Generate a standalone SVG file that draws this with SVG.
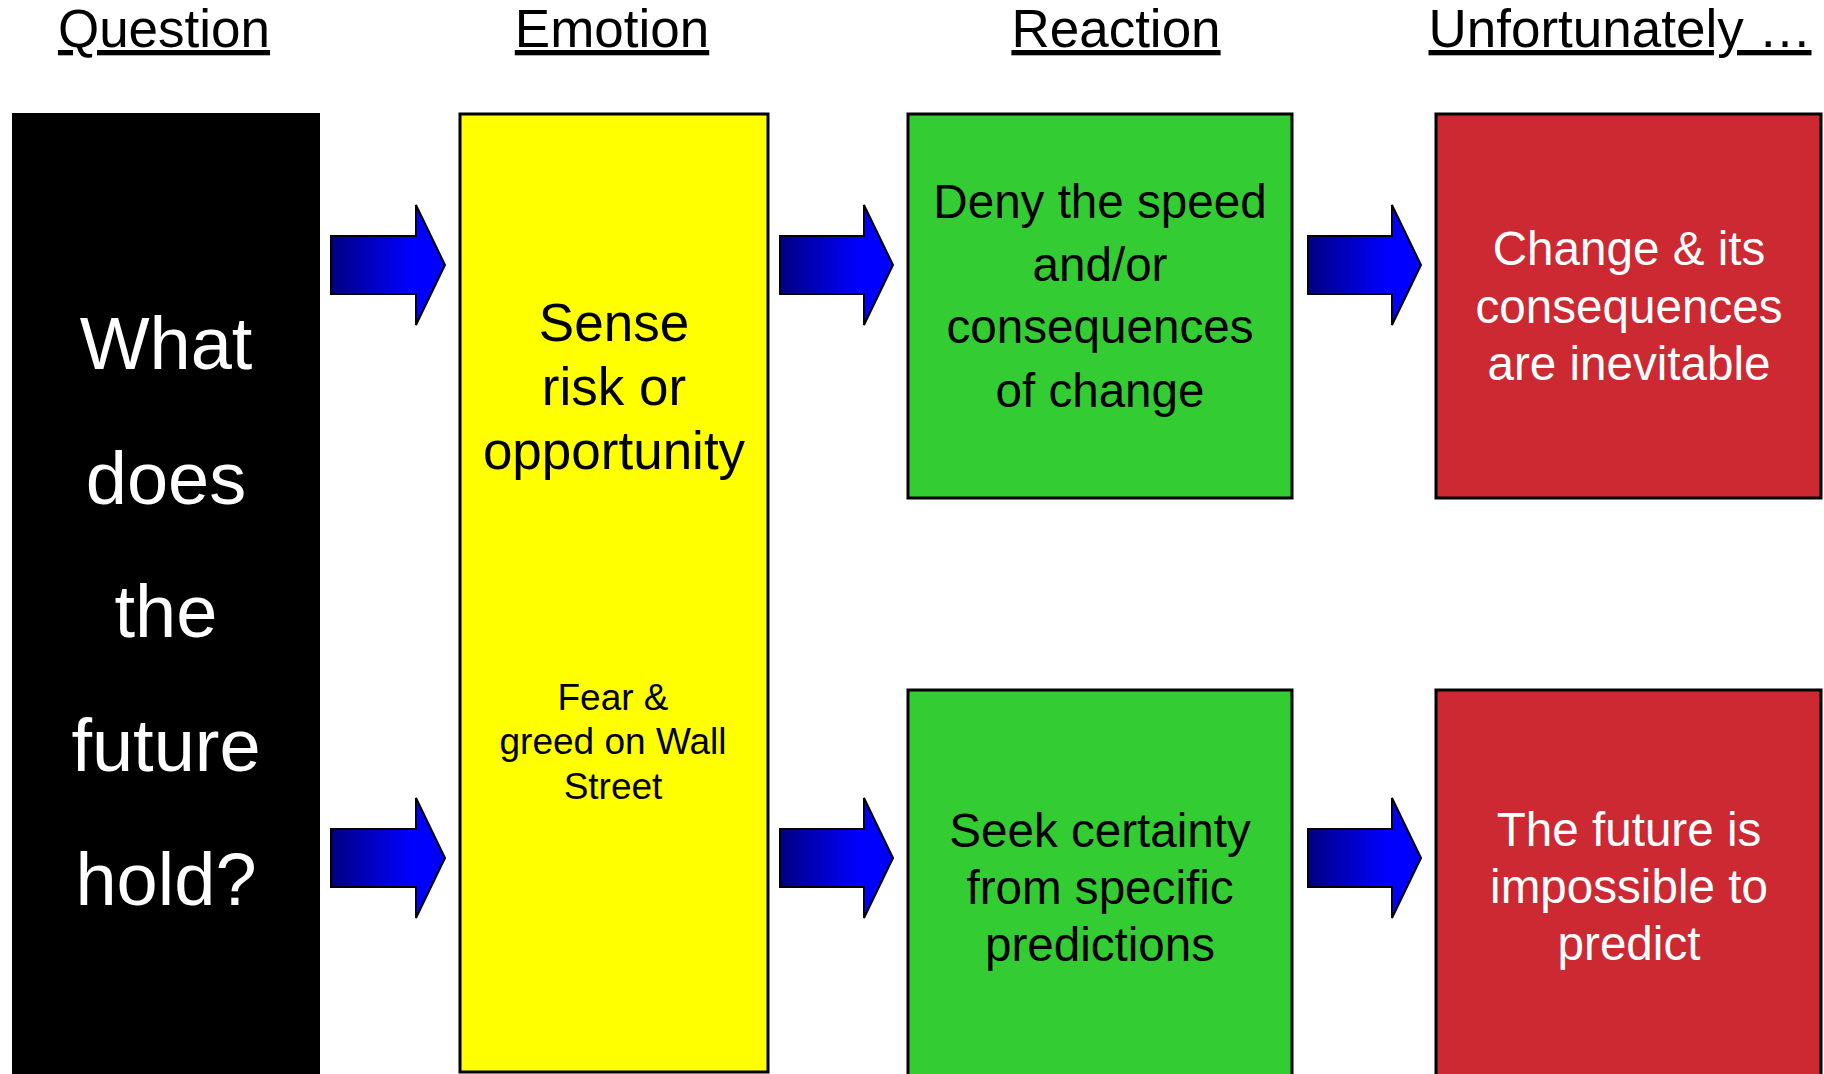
<svg xmlns="http://www.w3.org/2000/svg" width="1824" height="1074" viewBox="0 0 1824 1074">
<defs>
<linearGradient id="ag" x1="0" y1="0" x2="1" y2="0">
<stop offset="0" stop-color="#000080"/>
<stop offset="0.7" stop-color="#0000FF"/>
<stop offset="1" stop-color="#0000FF"/>
</linearGradient>
<style>
text{font-family:"Liberation Sans",Arial,sans-serif;text-anchor:middle}
.hdr{font-size:53px;fill:#000;text-decoration:underline}
.box{stroke:#000;stroke-width:3}
.arrow{fill:url(#ag);stroke:#000;stroke-width:2;stroke-linejoin:miter}
.w{fill:#fff}
.k{fill:#000}
.m{font-size:47.6px}
</style>
</defs>
<rect width="1824" height="1074" fill="#fff"/>
<g id="headers">
<text class="hdr" x="164" y="47">Question</text>
<text class="hdr" x="612" y="47">Emotion</text>
<text class="hdr" x="1116" y="47">Reaction</text>
<text class="hdr" x="1620" y="47">Unfortunately …</text>
</g>
<g id="question">
<rect x="12" y="113" width="308" height="965" fill="#000"/>
<text class="w" font-size="74" x="166" y="369">What</text>
<text class="w" font-size="74" x="166" y="504">does</text>
<text class="w" font-size="74" x="166" y="637">the</text>
<text class="w" font-size="74" x="166" y="771">future</text>
<text class="w" font-size="74" x="166" y="905">hold?</text>
</g>
<g id="emotion">
<rect class="box" x="460" y="114" width="308" height="958" fill="#FFFF00"/>
<text class="k" font-size="53" x="614" y="341">Sense</text>
<text class="k" font-size="53" x="614" y="405">risk or</text>
<text class="k" font-size="53" x="614" y="469">opportunity</text>
<text class="k" font-size="37" x="613" y="710">Fear &amp;</text>
<text class="k" font-size="37" x="613" y="754">greed on Wall</text>
<text class="k" font-size="37" x="613" y="799">Street</text>
</g>
<g id="reaction-deny">
<rect class="box" x="908" y="114" width="384" height="384" fill="#33CC33"/>
<text class="k m" x="1100" y="218">Deny the speed</text>
<text class="k m" x="1100" y="281">and/or</text>
<text class="k m" x="1100" y="343">consequences</text>
<text class="k m" x="1100" y="407">of change</text>
</g>
<g id="reaction-seek">
<rect class="box" x="908" y="690" width="384" height="390" fill="#33CC33"/>
<text class="k m" x="1100" y="847">Seek certainty</text>
<text class="k m" x="1100" y="904">from specific</text>
<text class="k m" x="1100" y="961">predictions</text>
</g>
<g id="unfortunately-change">
<rect class="box" x="1436" y="114" width="385" height="384" fill="#CD2932"/>
<text class="w m" x="1629" y="265">Change &amp; its</text>
<text class="w m" x="1629" y="323">consequences</text>
<text class="w m" x="1629" y="380">are inevitable</text>
</g>
<g id="unfortunately-future">
<rect class="box" x="1436" y="690" width="385" height="390" fill="#CD2932"/>
<text class="w m" x="1629" y="846">The future is</text>
<text class="w m" x="1629" y="903">impossible to</text>
<text class="w m" x="1629" y="960">predict</text>
</g>
<g id="connectors">
<path class="arrow" d="M331,236 H416 V205 L445,265 L416,325 V294 H331 Z"/>
<path class="arrow" d="M331,829 H416 V798 L445,858 L416,918 V887 H331 Z"/>
<path class="arrow" d="M780,236 H864 V205 L893,265 L864,325 V294 H780 Z"/>
<path class="arrow" d="M780,829 H864 V798 L893,858 L864,918 V887 H780 Z"/>
<path class="arrow" d="M1308,236 H1392 V205 L1421,265 L1392,325 V294 H1308 Z"/>
<path class="arrow" d="M1308,829 H1392 V798 L1421,858 L1392,918 V887 H1308 Z"/>
</g>
</svg>
